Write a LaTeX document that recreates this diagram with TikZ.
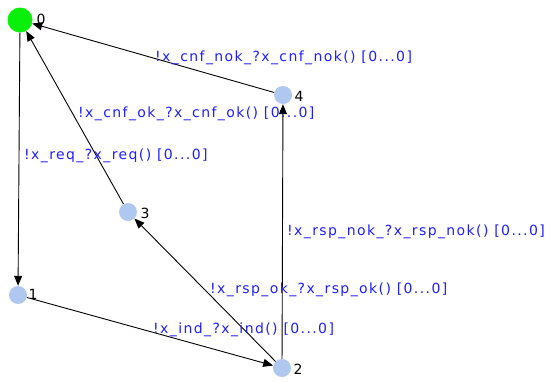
\documentclass[tikz,border=0pt]{standalone}
\usepackage{fontspec}
\setmainfont{DejaVu Sans}
\newfontfamily\edgefont[LetterSpace=10]{DejaVu Sans}
\usetikzlibrary{arrows.meta}
\definecolor{stateBlue}{RGB}{176,200,240}
\definecolor{initGreen}{RGB}{10,240,10}
\definecolor{labelBlue}{RGB}{30,30,255}
\tikzset{
myState/.style={
	circle,fill=stateBlue,inner sep=0pt,minimum size=18pt
}
, myInit/.style={
	circle,fill=initGreen,inner sep=0pt,minimum size=25pt
}
, myName/.style={
	inner sep=0pt,text=black,font=\fontsize{14}{14}\selectfont
}
, myLabel/.style={
	inner sep=0pt,anchor=west,text=labelBlue,font=\edgefont\fontsize{14}{14}\selectfont
}
% transition
, myEdge/.style={-{Triangle[length=10pt,width=8pt]},line width=0.9pt}
}
\begin{document}
\begin{tikzpicture}[x=1pt,y=-1pt]
	\useasboundingbox (0,0) rectangle (554,381);
	% locations
	\node[myInit]  (S0) at ( 20, 20) {};
	\node[myState] (S1) at ( 18,295) {};
	\node[myState] (S2) at (282,368) {};
	\node[myState] (S3) at (128,212) {};
	\node[myState] (S4) at (283, 95) {};
	% location names
	\node[myName] (N0) at ( 41, 19) {0};
	\node[myName] (N1) at ( 33,294) {1};
	\node[myName] (N2) at (298,369) {2};
	\node[myName] (N3) at (145,213) {3};
	\node[myName] (N4) at (299, 96) {4};
	% transitions
	\draw [myEdge] (S0) to (S1);
	\draw [myEdge] (S1) to (S2);
	\draw [myEdge] (S2) to (S3);
	\draw [myEdge] (S2) to (S4);
	\draw [myEdge] (S3) to (S0);
	\draw [myEdge] (S4) to (S0);
	% labels
	\node[myLabel] (Lreq)  at ( 24,156) {!x\_req\_?x\_req() [0...0]};
	\node[myLabel] (Lind)  at (153,330) {!x\_ind\_?x\_ind() [0...0]};
	\node[myLabel] (Lok)   at (210,290) {!x\_rsp\_ok\_?x\_rsp\_ok() [0...0]};
	\node[myLabel] (Lnok)  at (287,232) {!x\_rsp\_nok\_?x\_rsp\_nok() [0...0]};
	\node[myLabel] (Lcok)  at ( 78,114) {!x\_cnf\_ok\_?x\_cnf\_ok() [0...0]};
	\node[myLabel] (Lcnok) at (155, 58) {!x\_cnf\_nok\_?x\_cnf\_nok() [0...0]};
\end{tikzpicture}
\end{document}
